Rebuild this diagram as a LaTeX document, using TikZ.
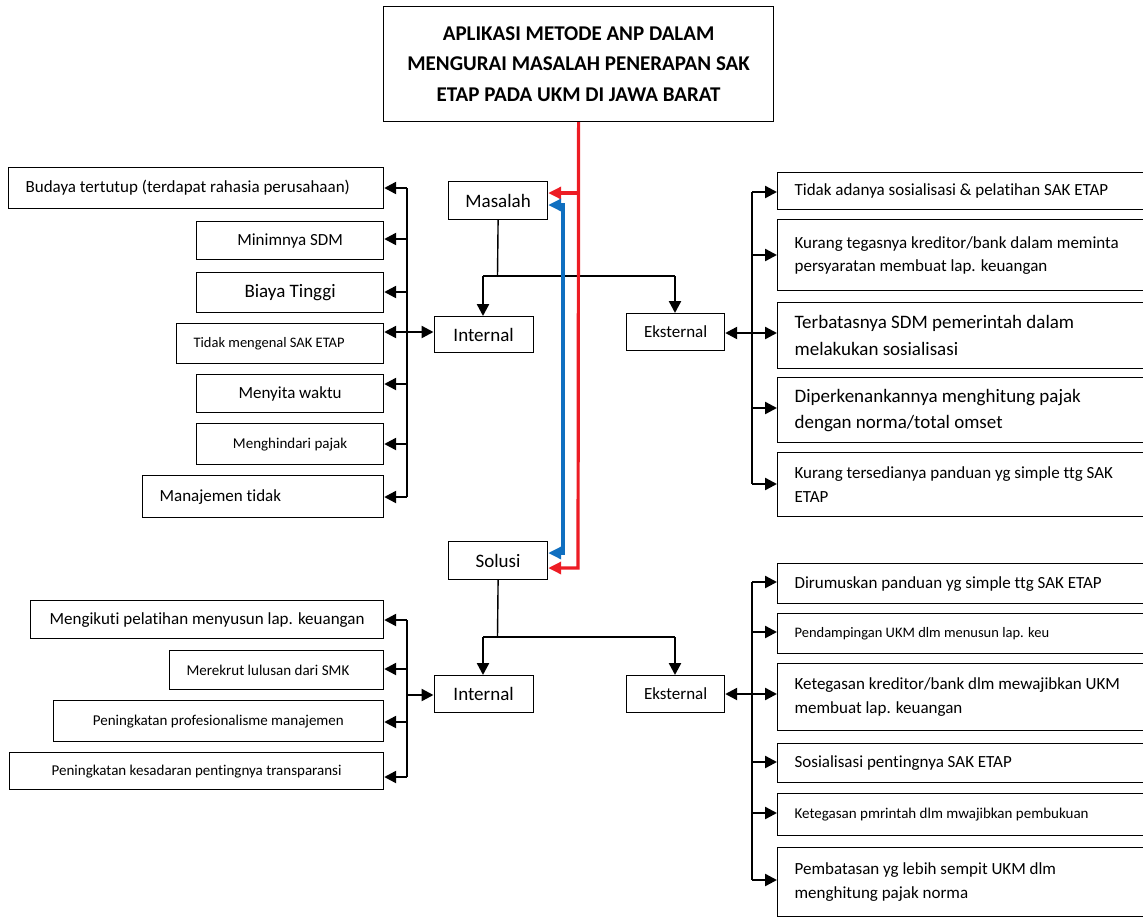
\documentclass[tikz,border=0pt]{standalone}
\usepackage{fontspec}
\setmainfont{Carlito}[Ligatures=NoCommon]
\usetikzlibrary{arrows.meta}
\newcommand\fsz[2]{\fontsize{#1}{#2}\selectfont}
\definecolor{redc}{HTML}{ED1C24}
\definecolor{bluec}{HTML}{0F6FC0}
\begin{document}
\begin{tikzpicture}[x=1pt,y=-1pt,
 bx/.style={draw, line width=1.2pt, anchor=north west, inner sep=0pt, align=center},
 lt/.style={align=flush left, text width=#1, inner xsep=17pt},
 arr/.style={line width=2.4pt, -{Triangle[length=12pt,width=12pt]}},
 darr/.style={line width=2.4pt, {Triangle[length=12pt,width=12pt]}-{Triangle[length=12pt,width=12pt]}},
 bus/.style={line width=1.6pt},
 stem/.style={line width=1.4pt},
 rl/.style={draw=redc, line width=3.2pt},
 bl/.style={draw=bluec, line width=3.2pt},
]
\useasboundingbox (0,0) rectangle (1143,919);
\clip (0,0) rectangle (1143,919);

% ---- central column
\node[bx, minimum width=390pt, minimum height=115pt, font=\fsz{21}{30.5}\bfseries] (title) at (383,6)
  {APLIKASI METODE ANP DALAM\\MENGURAI MASALAH PENERAPAN SAK\\ETAP PADA UKM DI JAWA BARAT};
\node[bx, minimum width=99pt, minimum height=38pt, font=\fsz{19}{23}] (mas) at (448,181) {Masalah};
\node[bx, minimum width=99pt, minimum height=38pt, font=\fsz{19}{23}] (sol) at (448,541) {Solusi};
\node[bx, minimum width=99pt, minimum height=36pt, font=\fsz{19}{23}] (int1) at (433.5,316) {Internal};
\node[bx, minimum width=98pt, minimum height=37pt, font=\fsz{17}{21}] (ext1) at (626,313) {Eksternal};
\node[bx, minimum width=99pt, minimum height=37pt, font=\fsz{19}{23}] (int2) at (433.5,675) {Internal};
\node[bx, minimum width=98pt, minimum height=37pt, font=\fsz{17}{21}] (ext2) at (626,675) {Eksternal};

% ---- left top
\node[bx, lt=341pt, minimum height=41pt, font=\fsz{17}{21}] (L1) at (8,167) {Budaya tertutup (terdapat rahasia perusahaan)};
\node[bx, minimum width=187pt, minimum height=38pt, font=\fsz{17}{21}] (L2) at (196,221) {Minimnya SDM};
\node[bx, minimum width=187pt, minimum height=40pt, font=\fsz{19}{23}] (L3) at (196,272) {Biaya Tinggi};
\node[bx, lt=173pt, minimum height=40pt, font=\fsz{14.5}{18}] (L4) at (176,323) {Tidak mengenal SAK ETAP};
\node[bx, minimum width=187pt, minimum height=38pt, font=\fsz{17}{21}] (L5) at (196,374) {Menyita waktu};
\node[bx, minimum width=187pt, minimum height=41pt, font=\fsz{15}{19}] (L6) at (196,423) {Menghindari pajak};
\node[bx, lt=207pt, minimum height=42pt, font=\fsz{17}{21}] (L7) at (142,475) {Manajemen tidak};

% ---- right top
\node[bx, lt=349pt, minimum height=37pt, font=\fsz{17}{23}] (R1) at (777,172) {Tidak adanya sosialisasi \& pelatihan SAK ETAP};
\node[bx, lt=349pt, minimum height=71pt, font=\fsz{17}{23}] (R2) at (777,219) {Kurang tegasnya kreditor/bank dalam meminta\\persyaratan membuat lap. keuangan};
\node[bx, lt=349pt, minimum height=66pt, font=\fsz{19}{27}] (R3) at (777,302) {Terbatasnya SDM pemerintah dalam\\melakukan sosialisasi};
\node[bx, lt=349pt, minimum height=65pt, font=\fsz{19}{26}] (R4) at (777,377) {Diperkenankannya menghitung pajak\\dengan norma/total omset};
\node[bx, lt=349pt, minimum height=64pt, font=\fsz{17}{24}] (R5) at (777,452) {Kurang tersedianya panduan yg simple ttg SAK\\ETAP};

% ---- left bottom
\node[bx, minimum width=353pt, minimum height=38pt, font=\fsz{17}{21}] (M1) at (30,600) {Mengikuti pelatihan menyusun lap. keuangan};
\node[bx, lt=180pt, minimum height=39pt, font=\fsz{15}{19}] (M2) at (169,650) {Merekrut lulusan dari SMK};
\node[bx, minimum width=330.5pt, minimum height=41pt, font=\fsz{15}{19}] (M3) at (52.5,700) {Peningkatan profesionalisme manajemen};
\node[bx, minimum width=374pt, minimum height=37pt, font=\fsz{15}{19}] (M4) at (9,752) {Peningkatan kesadaran pentingnya transparansi};

% ---- right bottom
\node[bx, lt=349pt, minimum height=40pt, font=\fsz{17}{23}] (N1) at (777,563) {Dirumuskan panduan yg simple ttg SAK ETAP};
\node[bx, lt=349pt, minimum height=40pt, font=\fsz{14.5}{18}] (N2) at (777,613) {Pendampingan UKM dlm menusun lap. keu};
\node[bx, lt=349pt, minimum height=67pt, font=\fsz{17}{24}] (N3) at (777,663) {Ketegasan kreditor/bank dlm mewajibkan UKM\\membuat lap. keuangan};
\node[bx, lt=349pt, minimum height=39pt, font=\fsz{17}{23}] (N4) at (777,743) {Sosialisasi pentingnya SAK ETAP};
\node[bx, lt=349pt, minimum height=42pt, font=\fsz{15}{19}] (N5) at (777,793) {Ketegasan pmrintah dlm mwajibkan pembukuan};
\node[bx, lt=349pt, minimum height=69pt, font=\fsz{17}{24}] (N6) at (777,847) {Pembatasan yg lebih sempit UKM dlm\\menghitung pajak norma};

% ---- masalah stem
\coordinate (mM) at (497.5,276);
\coordinate (mL) at (483,276);
\coordinate (mR) at (675,276);
\draw[stem] (mas.south) -- (mM);
\draw[bus] (mL) -- (mR);
\draw[arr] (mL) -- (mL |- int1.north);
\draw[arr] (mR) -- (mR |- ext1.north);

% ---- solusi stem
\coordinate (sM) at (497.5,637);
\coordinate (sL) at (483,637);
\coordinate (sR) at (675,637);
\draw[stem] (sol.south) -- (sM);
\draw[bus] (sL) -- (sR);
\draw[arr] (sL) -- (sL |- int2.north);
\draw[arr] (sR) -- (sR |- ext2.north);

% ---- left top bus
\coordinate (a1) at (407,188);
\coordinate (a2) at (407,239);
\coordinate (a3) at (407,292);
\coordinate (a4) at (407,332);
\coordinate (a5) at (407,384);
\coordinate (a6) at (407,444);
\coordinate (a7) at (407,497);
\draw[bus] (a1) -- (a7);
\draw[arr] (a1) -- (a1 -| L1.east);
\draw[arr] (a2) -- (a2 -| L2.east);
\draw[arr] (a3) -- (a3 -| L3.east);
\draw[darr] (a4 -| L4.east) -- (a4 -| int1.west);
\draw[arr] (a5) -- (a5 -| L5.east);
\draw[arr] (a6) -- (a6 -| L6.east);
\draw[arr] (a7) -- (a7 -| L7.east);

% ---- right top bus
\coordinate (b1) at (752,192);
\coordinate (b2) at (752,255);
\coordinate (b3) at (752,333);
\coordinate (b4) at (752,408);
\coordinate (b5) at (752,484);
\draw[bus] (b1) -- (b5);
\draw[arr] (b1) -- (b1 -| R1.west);
\draw[arr] (b2) -- (b2 -| R2.west);
\draw[darr] (b3 -| ext1.east) -- (b3 -| R3.west);
\draw[arr] (b4) -- (b4 -| R4.west);
\draw[arr] (b5) -- (b5 -| R5.west);

% ---- left bottom bus
\coordinate (c1) at (407,620);
\coordinate (c2) at (407,669);
\coordinate (c3) at (407,695);
\coordinate (c4) at (407,722);
\coordinate (c5) at (407,777);
\draw[bus] (c1) -- (c5);
\draw[arr] (c1) -- (c1 -| M1.east);
\draw[arr] (c2) -- (c2 -| M2.east);
\draw[arr] (c3) -- (c3 -| int2.west);
\draw[arr] (c4) -- (c4 -| M3.east);
\draw[arr] (c5) -- (c5 -| M4.east);

% ---- right bottom bus
\coordinate (d1) at (752,582);
\coordinate (d2) at (752,632);
\coordinate (d3) at (752,694);
\coordinate (d4) at (752,762);
\coordinate (d5) at (752,813);
\coordinate (d6) at (752,880);
\draw[bus] (d1) -- (d6);
\draw[arr] (d1) -- (d1 -| N1.west);
\draw[arr] (d2) -- (d2 -| N2.west);
\draw[darr] (d3 -| ext2.east) -- (d3 -| N3.west);
\draw[arr] (d4) -- (d4 -| N4.west);
\draw[arr] (d5) -- (d5 -| N5.west);
\draw[arr] (d6) -- (d6 -| N6.west);

% ---- red and blue links
\coordinate (r1) at (578,193);
\coordinate (r2) at (578,568);
\draw[rl, -{Triangle[length=13pt,width=12pt]}] (title.south) -- (r2) -- (r2 -| sol.east);
\draw[rl, -{Triangle[length=13pt,width=12pt]}] (r1) -- (r1 -| mas.east);
\coordinate (u1) at (563,205);
\coordinate (u2) at (563,553);
\draw[bl, {Triangle[length=13pt,width=12pt]}-{Triangle[length=13pt,width=12pt]}] (u1 -| mas.east) -- (u1) -- (u2) -- (u2 -| sol.east);
\end{tikzpicture}
\end{document}
